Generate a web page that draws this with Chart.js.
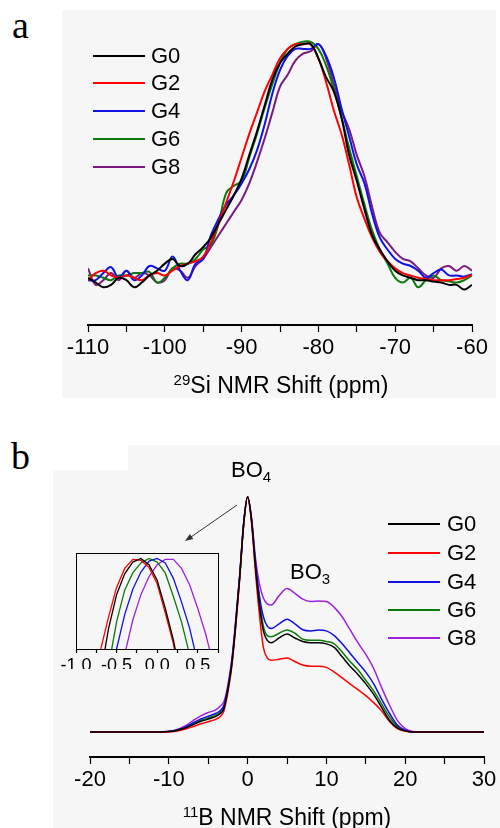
<!DOCTYPE html>
<html><head><meta charset="utf-8">
<script src="https://cdn.jsdelivr.net/npm/chart.js@4"></script>
<style>
html,body{margin:0;padding:0;background:#fff;}
body{width:500px;height:828px;position:relative;overflow:hidden;font-family:"Liberation Sans",Arial,sans-serif;color:#000;}
.bg{position:absolute;background:#f6f6f6;}
.abs{position:absolute;}
.plab{position:absolute;font-family:"Liberation Serif","Times New Roman",serif;font-size:38px;line-height:38px;}
.txt{position:absolute;font-size:22px;line-height:24px;white-space:nowrap;}
.ttl{position:absolute;font-size:23px;line-height:24px;text-align:center;white-space:nowrap;}
.ttl sup{font-size:15px;vertical-align:8px;line-height:0;}
.ann sub{font-size:15px;vertical-align:-5px;line-height:0;}
canvas{position:absolute;}
</style>
</head><body>
<div class="bg" style="left:62px;top:10px;width:434px;height:388px"></div>
<div class="bg" style="left:128px;top:445px;width:372px;height:25px"></div>
<div class="bg" style="left:53px;top:470px;width:447px;height:358px"></div>

<div class="plab" style="left:12px;top:6px">a</div>
<div class="plab" style="left:11px;top:437px">b</div>

<canvas id="ca" width="500" height="420" style="left:0;top:0"></canvas>
<canvas id="cb" width="500" height="408" style="left:0;top:420px"></canvas>
<canvas id="ci" width="210" height="145" style="left:30px;top:540px"></canvas>

<div class="ttl" style="left:131px;top:373px;width:300px"><sup>29</sup>Si NMR Shift (ppm)</div>
<div class="ttl" style="left:137px;top:805px;width:300px"><sup>11</sup>B NMR Shift (ppm)</div>
<div class="txt ann" style="left:231px;top:458px">BO<sub>4</sub></div>
<div class="txt ann" style="left:290px;top:560px">BO<sub>3</sub></div>

<svg class="abs" style="left:0;top:0" width="500" height="828">
  <line x1="237" y1="505" x2="191" y2="537" stroke="#333" stroke-width="1"/>
  <polygon points="185,541 193.3,538.9 189.9,533.9" fill="#333"/>
</svg>

<div id="legA"></div>
<div id="legB"></div>

<script>
// ---------- data ----------
const seriesNames = ['G0','G2','G4','G6','G8'];

// Panel a: 29Si NMR, x = shift (ppm)
const ppmA = [-110,-109,-108,-107,-106,-105,-104,-103,-102,-101,-100,-99,-98,-97,-96,-95,-94,-93,-92,-91,-90,-89,-88,-87,-86,-85,-84,-83,-82,-81,-80,-79,-78,-77,-76,-75,-74,-73,-72,-71,-70,-69,-68,-67,-66,-65,-64,-63,-62,-61,-60];
const siG0 = [0.00,-0.02,-0.04,-0.03,0.00,-0.01,-0.04,-0.02,0.01,0.03,0.06,0.08,0.05,0.06,0.10,0.13,0.17,0.23,0.29,0.35,0.42,0.52,0.62,0.73,0.84,0.91,0.95,0.98,0.99,0.99,0.93,0.85,0.79,0.68,0.52,0.41,0.29,0.18,0.12,0.07,0.03,0.01,0.00,-0.01,-0.01,-0.016,-0.02,-0.03,-0.03,-0.05,-0.03];
const siG2 = [-0.01,0.02,0.03,0.01,0.00,0.01,0.00,-0.01,0.01,0.02,0.01,0.03,0.05,0.06,0.07,0.09,0.15,0.23,0.32,0.41,0.51,0.61,0.70,0.79,0.86,0.93,0.97,0.99,0.99,0.99,0.93,0.83,0.71,0.61,0.48,0.34,0.25,0.17,0.11,0.07,0.04,0.02,0.01,0.00,-0.005,-0.01,-0.01,-0.01,-0.005,0.00,0.013];
const siG4 = [-0.01,-0.01,0.02,0.045,0.00,0.03,-0.01,0.01,0.05,0.04,0.03,0.09,0.03,-0.01,0.06,0.08,0.18,0.25,0.31,0.35,0.40,0.46,0.54,0.65,0.78,0.88,0.94,0.97,0.97,0.97,0.99,0.94,0.85,0.72,0.60,0.48,0.40,0.27,0.17,0.12,0.08,0.06,0.05,0.03,0.00,0.02,0.035,0.01,0.01,0.005,0.015];
const siG6 = [0.01,0.01,0.00,-0.01,0.01,0.01,0.02,0.02,0.025,-0.02,0.00,0.04,0.06,0.06,0.08,0.12,0.14,0.23,0.36,0.39,0.41,0.51,0.61,0.72,0.82,0.91,0.97,0.99,1.00,1.00,0.97,0.90,0.80,0.68,0.55,0.43,0.31,0.20,0.12,0.06,0.00,-0.02,0.00,-0.04,-0.01,0.01,-0.01,-0.015,-0.02,-0.01,0.01];
const siG8 = [0.04,-0.03,-0.01,0.02,-0.01,0.03,0.00,0.02,0.01,-0.02,-0.01,0.04,0.03,0.00,0.05,0.08,0.13,0.18,0.23,0.28,0.33,0.40,0.49,0.59,0.70,0.81,0.86,0.92,0.95,0.96,0.99,0.93,0.82,0.71,0.63,0.52,0.43,0.30,0.19,0.15,0.11,0.08,0.07,0.04,0.01,0.00,0.04,0.05,0.03,0.05,0.03];
const ticksA = [-110,-100,-90,-80,-70,-60];

// Panel b: 11B NMR
const ppmB = [-20,-18,-16,-14,-12,-10,-9,-8,-7,-6,-5,-4,-3.5,-3,-2.5,-2,-1.5,-1,-0.5,0,0.5,1,1.5,2,2.5,3,4,5,6,7,8,9,10,11,12,13,14,15,16,17,18,19,20,21,22,24,26,28,30];
const bG0 = [0,0,0,0,0,0.002,0.007,0.016,0.03,0.045,0.055,0.067,0.078,0.10,0.18,0.29,0.46,0.66,0.885,1.0,0.90,0.70,0.54,0.43,0.39,0.38,0.40,0.417,0.40,0.385,0.38,0.38,0.375,0.36,0.32,0.28,0.245,0.205,0.16,0.105,0.05,0.018,0.005,0,0,0,0,0,0];
const bG2 = [0,0,0,0,0,0,0.004,0.012,0.022,0.034,0.044,0.055,0.065,0.09,0.17,0.28,0.45,0.65,0.88,1.0,0.89,0.68,0.50,0.36,0.315,0.305,0.31,0.315,0.30,0.285,0.28,0.28,0.275,0.255,0.23,0.205,0.18,0.155,0.125,0.09,0.045,0.015,0.003,0,0,0,0,0,0];
const bG4 = [0,0,0,0,0,0.002,0.009,0.02,0.038,0.055,0.067,0.08,0.09,0.115,0.19,0.30,0.47,0.665,0.885,1.0,0.905,0.72,0.58,0.49,0.45,0.44,0.46,0.48,0.46,0.435,0.43,0.434,0.43,0.41,0.375,0.335,0.295,0.255,0.205,0.14,0.08,0.03,0.008,0,0,0,0,0,0];
const bG6 = [0,0,0,0,0,0.002,0.008,0.018,0.033,0.05,0.06,0.072,0.083,0.105,0.185,0.295,0.465,0.66,0.885,1.0,0.90,0.71,0.56,0.45,0.41,0.405,0.42,0.434,0.42,0.395,0.39,0.39,0.385,0.375,0.34,0.30,0.265,0.22,0.175,0.12,0.065,0.025,0.006,0,0,0,0,0,0];
const bG8 = [0,0,0,0,0,0.003,0.01,0.025,0.047,0.068,0.083,0.095,0.11,0.13,0.20,0.31,0.48,0.67,0.89,1.0,0.91,0.74,0.63,0.57,0.545,0.54,0.58,0.61,0.59,0.565,0.555,0.557,0.555,0.53,0.49,0.435,0.38,0.33,0.27,0.19,0.115,0.05,0.015,0.002,0,0,0,0,0];
const ticksB = [-20,-10,0,10,20,30];

// Inset: BO4 peak top
const ppmI = [-0.7,-0.6,-0.5,-0.4,-0.3,-0.2,-0.1,0,0.1,0.2,0.3,0.4,0.5,0.6,0.7];
const iG0 = [-0.3,0.22,0.60,0.83,0.96,1.0,0.93,0.76,0.45,0.10,-0.35,null,null,null,null];
const iG2 = [-0.02,0.35,0.68,0.89,0.99,0.98,0.90,0.72,0.40,0.06,-0.4,null,null,null,null];
const iG4 = [null,-0.4,0.0,0.38,0.66,0.85,0.97,1.0,0.95,0.78,0.52,0.23,-0.15,null,null];
const iG6 = [-0.7,-0.2,0.30,0.65,0.84,0.95,1.0,0.96,0.84,0.58,0.30,-0.06,null,null,null];
const iG8 = [null,null,-0.5,-0.06,0.32,0.60,0.80,0.93,0.99,0.99,0.89,0.71,0.45,0.16,-0.2];
const ticksI = ['-1,0','-0,5','0,0','0,5'];

// ---------- styles ----------
const colA = ['#000000','#ff0000','#1010e8','#0b7a0b','#7a1a80'];
const colB = ['#000000','#ff0000','#1010e0','#0b7a0b','#a020e0'];
const FONT = '"Liberation Sans", Arial, sans-serif';

function mk(xs, ys){ return xs.map((x,j)=>({x:x, y:ys[j]})); }

function xScale(min,max,step,labelFn,size,tickLen,pad,h){
  return {
    type:'linear', min:min, max:max,
    ticks:{stepSize:step, autoSkip:false, maxRotation:0, minRotation:0, color:'#000',
      font:{family:FONT,size:size}, padding:pad, callback:labelFn},
    grid:{display:true, drawOnChartArea:false, drawTicks:true, tickLength:tickLen, tickColor:'#000', tickWidth:1.2},
    border:{display:true,color:'#000',width:2},
    afterFit:function(s){ s.height = h; }
  };
}

const common = {responsive:false, animation:false, devicePixelRatio:1,
  plugins:{legend:{display:false}, tooltip:{enabled:false}}};

// Panel a
new Chart(document.getElementById('ca'), {
  type:'line',
  data:{datasets:[siG0,siG2,siG4,siG6,siG8].map((d,i)=>({label:seriesNames[i], data:mk(ppmA,d),
    borderColor:colA[i], borderWidth:2, pointRadius:0, tension:0.4, fill:false}))},
  options:Object.assign({}, common, {
    layout:{padding:{left:88,right:28,top:30,bottom:35}},
    scales:{
      x:xScale(-110,-60,5,v=>ticksA.includes(v)?String(v):'',22,7,3,60),
      y:{display:false,min:-0.2,max:1.05}
    }})
});

// Panel b
new Chart(document.getElementById('cb'), {
  type:'line',
  data:{datasets:[bG0,bG2,bG4,bG6,bG8].map((d,i)=>({label:seriesNames[i], data:mk(ppmB,d),
    borderColor:colB[i], borderWidth:1.5, pointRadius:0, cubicInterpolationMode:'monotone', fill:false}))},
  options:Object.assign({}, common, {
    layout:{padding:{left:90,right:16,top:58,bottom:21}},
    scales:{
      x:xScale(-20,30,5,v=>ticksB.includes(v)?String(v):'',22,7,3,50),
      y:{display:false,min:-0.106,max:1.08}
    }})
});

// Inset
const boxPlugin = {id:'box', afterDraw(c){ const a=c.chartArea, g=c.ctx; g.save(); g.strokeStyle='#000'; g.lineWidth=1;
  g.strokeRect(Math.round(a.left)+0.5, Math.round(a.top)+0.5, Math.round(a.right-a.left), Math.round(a.bottom-a.top)); g.restore(); }};
new Chart(document.getElementById('ci'), {
  type:'line',
  data:{datasets:[iG0,iG2,iG4,iG6,iG8].map((d,i)=>({label:seriesNames[i], data:mk(ppmI,d),
    borderColor:colB[i], borderWidth:1.3, pointRadius:0, tension:0, fill:false, spanGaps:false}))},
  options:Object.assign({}, common, {
    layout:{padding:{left:46,right:22,top:13,bottom:16}},
    scales:{
      x:(function(){ const s = xScale(-1,0.75,0.25,function(v){
          const k = Math.round(v*2); return Math.abs(v*2-k)<1e-6 ? ticksI[k+2] : ''; },18,4,2,20);
          s.border.width = 1; return s; })(),
      y:{display:false,min:0,max:1.06}
    }}),
  plugins:[boxPlugin]
});

// Legends (HTML)
function legend(el, x0, x1, tx, ys, cols, lw){
  seriesNames.forEach((n,i)=>{
    const ln = document.createElement('div');
    ln.style.cssText = `position:absolute;left:${x0}px;top:${ys[i]-lw/2}px;width:${x1-x0}px;height:${lw}px;background:${cols[i]}`;
    el.appendChild(ln);
    const t = document.createElement('div');
    t.className='txt'; t.style.left = tx+'px'; t.style.top = (ys[i]-12)+'px'; t.textContent = n;
    el.appendChild(t);
  });
}
legend(document.getElementById('legA'), 93, 145, 151, [56,83,111,139,167], colA, 2.5);
legend(document.getElementById('legB'), 388, 440, 447, [524,553,582,610,638], colB, 1.6);
</script>
</body></html>
